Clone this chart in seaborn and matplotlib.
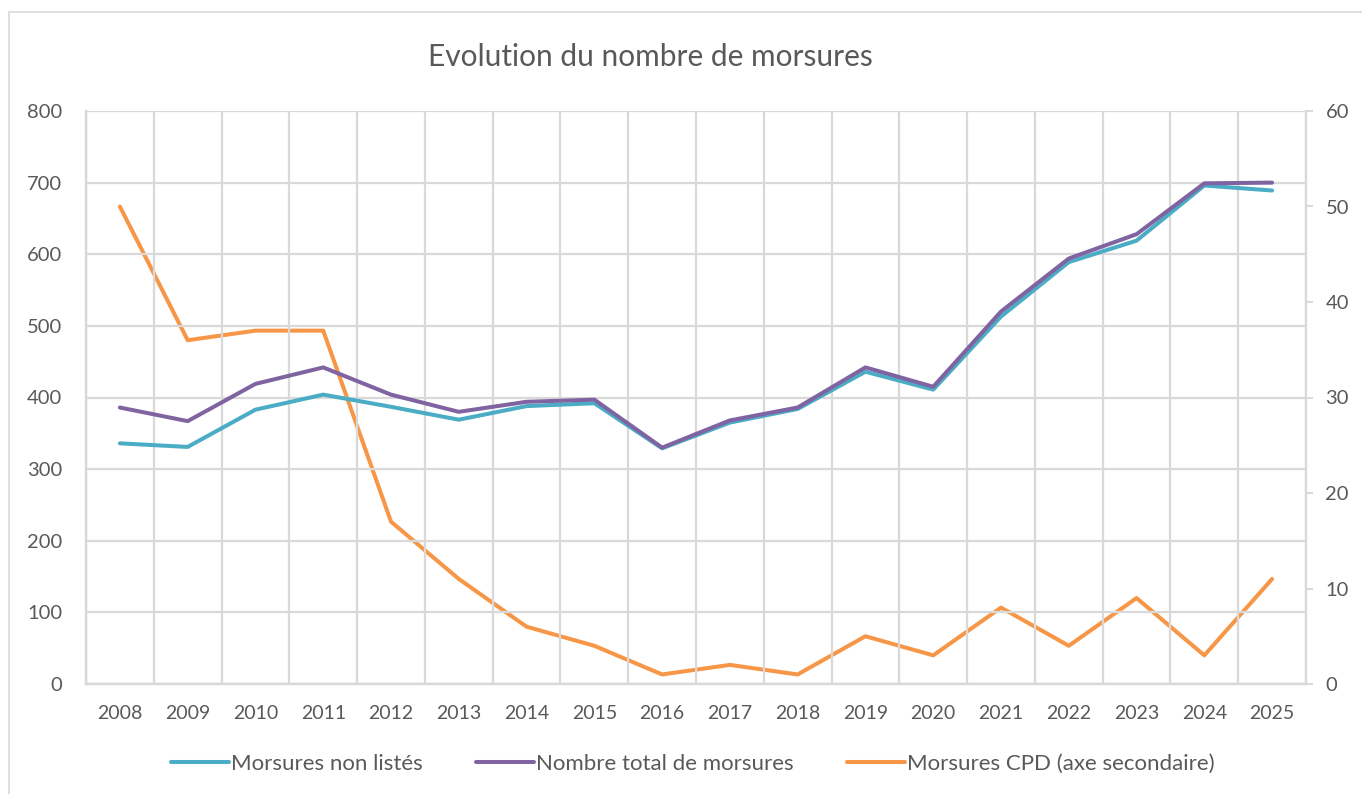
import matplotlib
matplotlib.use("Agg")
import matplotlib.pyplot as plt
from matplotlib.lines import Line2D
import seaborn as sns
import pandas as pd
import numpy as np

# Data
years = [str(y) for y in range(2008, 2026)]
non_listes = [336, 331, 383, 404, 387, 369, 388, 392, 329, 365, 384, 436, 411, 513, 589, 619, 696, 689]
total = [386, 367, 419, 442, 404, 380, 394, 397, 330, 368, 386, 442, 415, 520, 594, 628, 699, 700]
cpd = [50, 36, 37, 37, 17, 11, 6, 4, 1, 2, 1, 5, 3, 8, 4, 9, 3, 11]

labels = ["Morsures non listés", "Nombre total de morsures", "Morsures CPD (axe secondaire)"]
colors = ["#4BACC6", "#8064A2", "#F79646"]

sns.set_theme(style="white")
plt.rcParams["font.family"] = ["Lato", "DejaVu Sans"]
text_col = "#595959"
grid_col = "#D9D9D9"

x = np.arange(len(years))
df = pd.DataFrame({
    "x": np.concatenate([x, x]),
    "value": non_listes + total,
    "serie": [labels[0]] * len(years) + [labels[1]] * len(years),
})
df_cpd = pd.DataFrame({"x": x, "value": cpd})

fig = plt.figure(figsize=(13.62, 7.94), dpi=100)
ax = fig.add_axes([86 / 1362, 1 - 684 / 794, (1306 - 86) / 1362, (684 - 111) / 794])
ax2 = ax.twinx()

sns.lineplot(data=df, x="x", y="value", hue="serie", palette=colors[:2],
             linewidth=2.9, ax=ax, legend=False, sort=False)
sns.lineplot(data=df_cpd, x="x", y="value", color=colors[2],
             linewidth=2.9, ax=ax2, legend=False)
ax2.set_zorder(ax.get_zorder() + 1)
ax.set_zorder(ax2.get_zorder() + 1)
ax.patch.set_visible(False)

ax.set_xlim(-0.5, len(years) - 0.5)
ax.set_ylim(0, 800)
ax2.set_ylim(0, 60)
ax.set_yticks(range(0, 801, 100))
ax2.set_yticks(range(0, 61, 10))
ax.set_xticks(x)
ax.set_xticklabels(years)
ax.set_xticks(np.arange(-0.5, len(years), 1), minor=True)
ax.set_xlabel("")
ax.set_ylabel("")
ax2.set_ylabel("")

ax.grid(True, axis="y", color=grid_col, linewidth=1.6)
ax.grid(True, axis="x", which="minor", color=grid_col, linewidth=1.6)
ax.grid(False, axis="x", which="major")
ax2.grid(False)

ax.tick_params(axis="y", length=0, pad=17, labelsize=14.5, labelcolor=text_col)
ax.tick_params(axis="x", which="both", length=0, pad=15, labelsize=14, labelcolor=text_col)
ax2.tick_params(axis="y", length=5, width=1.4, color=grid_col, pad=9, labelsize=14.5,
                labelcolor=text_col, right=True)

for a in (ax, ax2):
    a.spines["top"].set_visible(False)
    for s in a.spines.values():
        s.set_color(grid_col)
        s.set_linewidth(1.6)
ax.spines["right"].set_visible(False)

fig.text(650 / 1362, 1 - 57 / 794, "Evolution du nombre de morsures",
         ha="center", va="center", fontsize=21.5, color=text_col)

handles = [Line2D([], [], color=c, linewidth=2.9) for c in colors]
fig.legend(handles, labels, loc="center", bbox_to_anchor=(693 / 1362, 1 - 764 / 794),
           ncol=3, frameon=False, fontsize=16, labelcolor=text_col,
           handlelength=2.6, handletextpad=0.1, columnspacing=2.4)

# chart area border
fig.add_artist(Line2D([9 / 1362, 1], [1 - 12 / 794, 1 - 12 / 794], color=grid_col,
                      linewidth=1.2, transform=fig.transFigure))
fig.add_artist(Line2D([9 / 1362, 9 / 1362], [0, 1 - 12 / 794], color=grid_col,
                      linewidth=1.2, transform=fig.transFigure))

fig.savefig("out.png", dpi=100)
